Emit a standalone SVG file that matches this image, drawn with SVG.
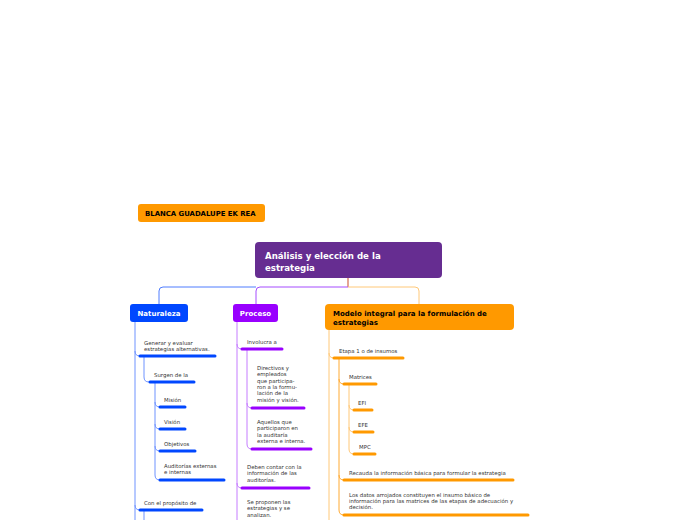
<svg xmlns="http://www.w3.org/2000/svg" width="696" height="520" viewBox="0 0 696 520">
<style>
text{font-family:"DejaVu Sans","Verdana",sans-serif;}
.t{font-size:5.4px;fill:#333;}
.h{font-size:7px;font-weight:bold;}
.bl{stroke:#0047ff;stroke-width:3;stroke-linecap:round;fill:none;}
.pu{stroke:#9900ff;stroke-width:3;stroke-linecap:round;fill:none;}
.or{stroke:#ff9900;stroke-width:3;stroke-linecap:round;fill:none;}
.blt{stroke:#6f93ff;stroke-width:1;fill:none;}
.put{stroke:#c57cff;stroke-width:1;fill:none;}
.ort{stroke:#ffc878;stroke-width:1;fill:none;}
</style>
<rect width="696" height="520" fill="#ffffff"/>
<g id="connectors">
<path d="M348,278 V287" stroke="#d2694a" stroke-width="1.2" fill="none"/>
<path d="M256,287 H163 Q159,287 159,291 V304" stroke="#4f7dff" stroke-width="1" fill="none"/>
<path d="M348,287 H260 Q256,287 256,291 V304" stroke="#a54dff" stroke-width="1" fill="none"/>
<path d="M348,287 H415 Q419,287 419,291 V304" stroke="#ffc878" stroke-width="1" fill="none"/>
<path class="blt" d="M135,322 V520"/>
<path class="blt" d="M135,351 Q135,356 140,356"/>
<path class="blt" d="M135,505 Q135,510 140,510"/>
<path class="blt" d="M144,356 V377 Q144,382 149,382"/>
<path class="blt" d="M144,510 V520"/>
<path class="blt" d="M155,382 V475 Q155,480 160,480"/>
<path class="blt" d="M155,402 Q155,407 160,407"/>
<path class="blt" d="M155,424 Q155,429 160,429"/>
<path class="blt" d="M155,446 Q155,451 160,451"/>
<path class="put" d="M237,322 V520"/>
<path class="put" d="M237,344 Q237,349 242,349"/>
<path class="put" d="M237,483 Q237,488 242,488"/>
<path class="put" d="M247,349 V444 Q247,449 252,449"/>
<path class="put" d="M247,403 Q247,408 252,408"/>
<path class="ort" d="M329,330 V520"/>
<path class="ort" d="M329,353 Q329,358 334,358"/>
<path d="M339,358 V510 Q339,515 344,515" stroke="#ffaa33" stroke-width="1" fill="none"/>
<path d="M339,379 Q339,384 344,384" stroke="#ffaa33" stroke-width="1" fill="none"/>
<path d="M339,475 Q339,480 344,480" stroke="#ffaa33" stroke-width="1" fill="none"/>
<path class="ort" d="M349,384 V449 Q349,454 354,454"/>
<path class="ort" d="M349,405 Q349,410 354,410"/>
<path class="ort" d="M349,427 Q349,432 354,432"/>
</g>
<g id="author">
<rect x="138" y="204" width="127" height="18" rx="3" fill="#ff9900"/>
<text x="145" y="215.5" style="font-size:6.9px;font-weight:bold" fill="#000">BLANCA GUADALUPE EK REA</text>
</g>
<g id="main">
<rect x="255" y="242" width="187" height="36" rx="4" fill="#662d91"/>
<text x="265" y="259" style="font-size:8.6px;font-weight:bold" fill="#fff">Análisis y elección de la</text>
<text x="265" y="270.5" style="font-size:8.6px;font-weight:bold" fill="#fff">estrategia</text>
</g>
<g id="naturaleza">
<rect x="130" y="304" width="58" height="18" rx="3" fill="#0047ff"/>
<text x="159" y="316" class="h" fill="#fff" text-anchor="middle">Naturaleza</text>
</g>
<g id="proceso">
<rect x="233" y="304" width="45" height="18" rx="3" fill="#9900ff"/>
<text x="255.5" y="316" class="h" fill="#fff" text-anchor="middle">Proceso</text>
</g>
<g id="modelo">
<rect x="325" y="304" width="189" height="26" rx="4" fill="#ff9900"/>
<text x="333" y="315.5" class="h" fill="#000">Modelo integral para la formulación de</text>
<text x="333" y="325" class="h" fill="#000">estrategias</text>
</g>
<g id="n-generar">
<text x="144" y="345" class="t">Generar y evaluar</text>
<text x="144" y="351" class="t">estrategias alternativas.</text>
<path class="bl" d="M140,356 H215"/>
</g>
<g id="n-surgen">
<text x="154" y="377" class="t">Surgen de la</text>
<path class="bl" d="M150,382 H194"/>
</g>
<g id="n-mision">
<text x="164" y="402" class="t">Misión</text>
<path class="bl" d="M160,407 H185"/>
</g>
<g id="n-vision">
<text x="164" y="424" class="t">Visión</text>
<path class="bl" d="M160,429 H185"/>
</g>
<g id="n-objetivos">
<text x="164" y="446" class="t">Objetivos</text>
<path class="bl" d="M160,451 H195"/>
</g>
<g id="n-auditorias">
<text x="164" y="468" class="t">Auditorías externas</text>
<text x="164" y="474" class="t">e internas</text>
<path class="bl" d="M160,480 H224"/>
</g>
<g id="n-proposito">
<text x="144" y="505" class="t">Con el propósito de</text>
<path class="bl" d="M140,510 H202"/>
</g>
<g id="p-involucra">
<text x="247" y="344" class="t">Involucra a</text>
<path class="pu" d="M242,349 H282"/>
</g>
<g id="p-directivos">
<text x="257" y="370" class="t">Directivos y</text>
<text x="257" y="376.3" class="t">empleados</text>
<text x="257" y="382.6" class="t">que participa-</text>
<text x="257" y="388.9" class="t">ron a la formu-</text>
<text x="257" y="395.2" class="t">lación de la</text>
<text x="257" y="401.5" class="t">misión y visión.</text>
<path class="pu" d="M252,408 H304"/>
</g>
<g id="p-aquellos">
<text x="257" y="424" class="t">Aquellos que</text>
<text x="257" y="430.3" class="t">participaron en</text>
<text x="257" y="436.6" class="t">la auditaría</text>
<text x="257" y="442.9" class="t">externa e interna.</text>
<path class="pu" d="M252,449 H311"/>
</g>
<g id="p-deben">
<text x="247" y="469" class="t">Deben contar con la</text>
<text x="247" y="475.3" class="t">información de las</text>
<text x="247" y="481.6" class="t">auditorías.</text>
<path class="pu" d="M242,488 H309"/>
</g>
<g id="p-proponen">
<text x="247" y="504" class="t">Se proponen las</text>
<text x="247" y="510.3" class="t">estrategias y se</text>
<text x="247" y="516.6" class="t">analizan.</text>
</g>
<g id="m-etapa">
<text x="339" y="352.5" class="t">Etapa 1 o de insumos</text>
<path class="or" d="M334,358 H403"/>
</g>
<g id="m-matrices">
<text x="349" y="378.5" class="t">Matrices</text>
<path class="or" d="M344,384 H376"/>
</g>
<g id="m-efi">
<text x="358" y="405" class="t">EFI</text>
<path class="or" d="M354,410 H372"/>
</g>
<g id="m-efe">
<text x="358" y="427" class="t">EFE</text>
<path class="or" d="M354,432 H373"/>
</g>
<g id="m-mpc">
<text x="359" y="449" class="t">MPC</text>
<path class="or" d="M354,454 H375"/>
</g>
<g id="m-recauda">
<text x="349" y="474.5" class="t">Recauda la información básica para formular la estrategia</text>
<path class="or" d="M344,480 H513"/>
</g>
<g id="m-datos">
<text x="349" y="496.5" class="t">Los datos arrojados constituyen el insumo básico de</text>
<text x="349" y="502.8" class="t">información para las matrices de las etapas de adecuación y</text>
<text x="349" y="509.1" class="t">decisión.</text>
<path class="or" d="M344,515 H528"/>
</g>
</svg>
